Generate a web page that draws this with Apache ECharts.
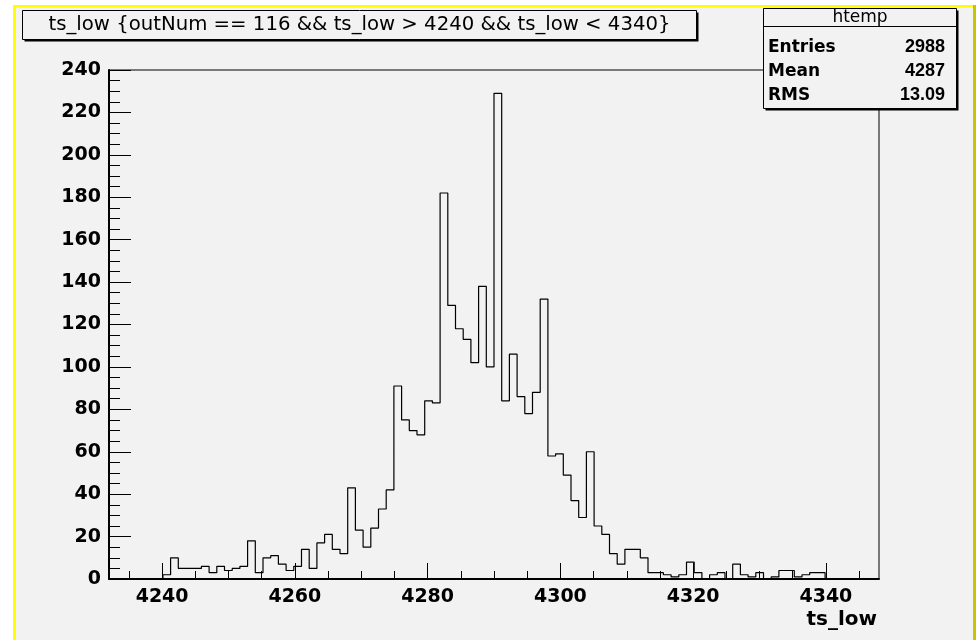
<!DOCTYPE html>
<html>
<head>
<meta charset="utf-8">
<script src="https://cdn.jsdelivr.net/npm/echarts@6/dist/echarts.min.js"></script>
<style>
html,body{margin:0;padding:0;background:#ffffff;}
#chart{width:980px;height:640px;}
</style>
</head>
<body>
<div id="chart"></div>
<script>
// ---- data ----
const histLow = 4232;
const histHigh = 4348;
const counts = [
  0,0,0,0,0,0,0,
  2,10,5,5,5,6,3,6,4,5,
  6,18,3,10,11,7,4,6,14,5,
  17,21,14,12,43,23,15,24,33,42,
  91,75,70,68,84,83,182,129,118,113,
  102,138,100,229,84,106,86,78,88,132,
  58,59,49,37,29,60,25,21,12,7,
  14,14,10,3,3,2,1,2,8,3,
  0,2,3,0,7,2,1,3,0,1,4,4,1,2,3,3,
  0,0,0,0,0,0,0
];
const xMajorTicks = [4240, 4260, 4280, 4300, 4320, 4340];
const xMinorTicks = [4235,4245,4250,4255,4265,4270,4275,4285,4290,4295,4305,4310,4315,4325,4330,4335,4345];
const yMin = 0, yMax = 240, yStep = 20;
const titleText = 'ts_low {outNum == 116 && ts_low > 4240 && ts_low < 4340}';
const statsTitle = 'htemp';
const statsNames = ['Entries', 'Mean', 'RMS'];
const statsValues = ['2988', '4287', '13.09'];
const xAxisTitle = 'ts_low';

// ---- build step outline from bin edges ----
const nBins = counts.length;
const binW = (histHigh - histLow) / nBins;
const stepData = counts.map((c, i) => [histLow + i * binW, c]);
stepData.push([histHigh, counts[nBins - 1]]);

const FONT = 'DejaVu Sans';
const chart = echarts.init(document.getElementById('chart'), null, {renderer: 'canvas'});

const graphics = [
  {type: 'rect', z: -10, silent: true, shape: {x: 13, y: 5, width: 963, height: 640}, style: {fill: '#f2f2f2'}},
  {type: 'rect', z: -9, silent: true, shape: {x: 13, y: 5, width: 963, height: 2.5}, style: {fill: '#ffff00'}},
  {type: 'rect', z: -9, silent: true, shape: {x: 13, y: 5, width: 3, height: 640}, style: {fill: '#ffff00'}},
  {type: 'rect', z: -9, silent: true, shape: {x: 973, y: 5, width: 3, height: 640}, style: {fill: '#c8c400'}},
  // title box
  {type: 'rect', z: 100, silent: true, shape: {x: 24.5, y: 12.5, width: 674, height: 29}, style: {fill: '#000'}},
  {type: 'rect', z: 101, silent: true, shape: {x: 22.5, y: 10.5, width: 674, height: 29}, style: {fill: '#f2f2f2', stroke: '#000', lineWidth: 1}},
  {type: 'text', z: 102, silent: true, x: 359.5, y: 25, style: {text: titleText, fill: '#000', font: 'normal 19.7px "' + FONT + '"', align: 'center', verticalAlign: 'middle'}},
  // stats box
  {type: 'rect', z: 100, silent: true, shape: {x: 765.5, y: 10.5, width: 193, height: 100}, style: {fill: '#000'}},
  {type: 'rect', z: 101, silent: true, shape: {x: 763.5, y: 8.5, width: 193, height: 100}, style: {fill: '#f2f2f2', stroke: '#000', lineWidth: 1}},
  {type: 'line', z: 102, silent: true, shape: {x1: 763.5, y1: 26.5, x2: 956.5, y2: 26.5}, style: {stroke: '#000', lineWidth: 1}},
  {type: 'text', z: 102, silent: true, x: 860, y: 17.5, style: {text: statsTitle, fill: '#000', font: 'normal 17px "' + FONT + '"', align: 'center', verticalAlign: 'middle'}},
  // x axis title
  {type: 'text', z: 102, silent: true, x: 877, y: 620, style: {text: xAxisTitle, fill: '#000', font: 'bold 20px "' + FONT + '"', align: 'right', verticalAlign: 'middle'}}
];
const rowY = [47.5, 71.5, 95.5];
statsNames.forEach((n, i) => {
  graphics.push({type: 'text', z: 102, silent: true, x: 768, y: rowY[i], style: {text: n, fill: '#000', font: 'bold 17px "' + FONT + '"', align: 'left', verticalAlign: 'middle'}});
  graphics.push({type: 'text', z: 102, silent: true, x: 945, y: rowY[i], style: {text: statsValues[i], fill: '#000', font: 'bold 18px "Liberation Sans"', align: 'right', verticalAlign: 'middle'}});
});

const option = {
  animation: false,
  backgroundColor: '#ffffff',
  grid: {left: 109, top: 70, width: 770, height: 509, show: true, borderColor: '#000', borderWidth: 1, backgroundColor: 'transparent', containLabel: false},
  xAxis: [
    {
      type: 'value', min: histLow, max: histHigh, position: 'bottom',
      axisLine: {show: true, onZero: false, lineStyle: {color: '#000', width: 2}},
      axisTick: {show: true, inside: true, length: 16, customValues: xMajorTicks, lineStyle: {color: '#000', width: 1}},
      axisLabel: {show: true, customValues: xMajorTicks, margin: 9, color: '#000', fontFamily: FONT, fontWeight: 'bold', fontSize: 19, formatter: v => String(v)},
      splitLine: {show: false}
    },
    {
      type: 'value', min: histLow, max: histHigh, position: 'bottom', offset: 0,
      axisLine: {show: false},
      axisTick: {show: true, inside: true, length: 8, customValues: xMinorTicks, lineStyle: {color: '#000', width: 1}},
      axisLabel: {show: false},
      splitLine: {show: false}
    }
  ],
  yAxis: {
    type: 'value', min: yMin, max: yMax, interval: yStep,
    axisLine: {show: true, onZero: false, lineStyle: {color: '#000', width: 2}},
    axisTick: {show: true, inside: true, length: 22, lineStyle: {color: '#000', width: 1}},
    minorTick: {show: true, splitNumber: 4, length: 11, lineStyle: {color: '#000', width: 1}},
    axisLabel: {margin: 8, color: '#000', fontFamily: FONT, fontWeight: 'bold', fontSize: 19, formatter: v => String(v)},
    splitLine: {show: false}
  },
  series: [{
    type: 'line',
    xAxisIndex: 0,
    data: stepData,
    step: 'end',
    symbol: 'none',
    lineStyle: {color: '#000', width: 1.2},
    z: 3
  }],
  graphic: graphics
};
chart.setOption(option);
</script>
</body>
</html>
